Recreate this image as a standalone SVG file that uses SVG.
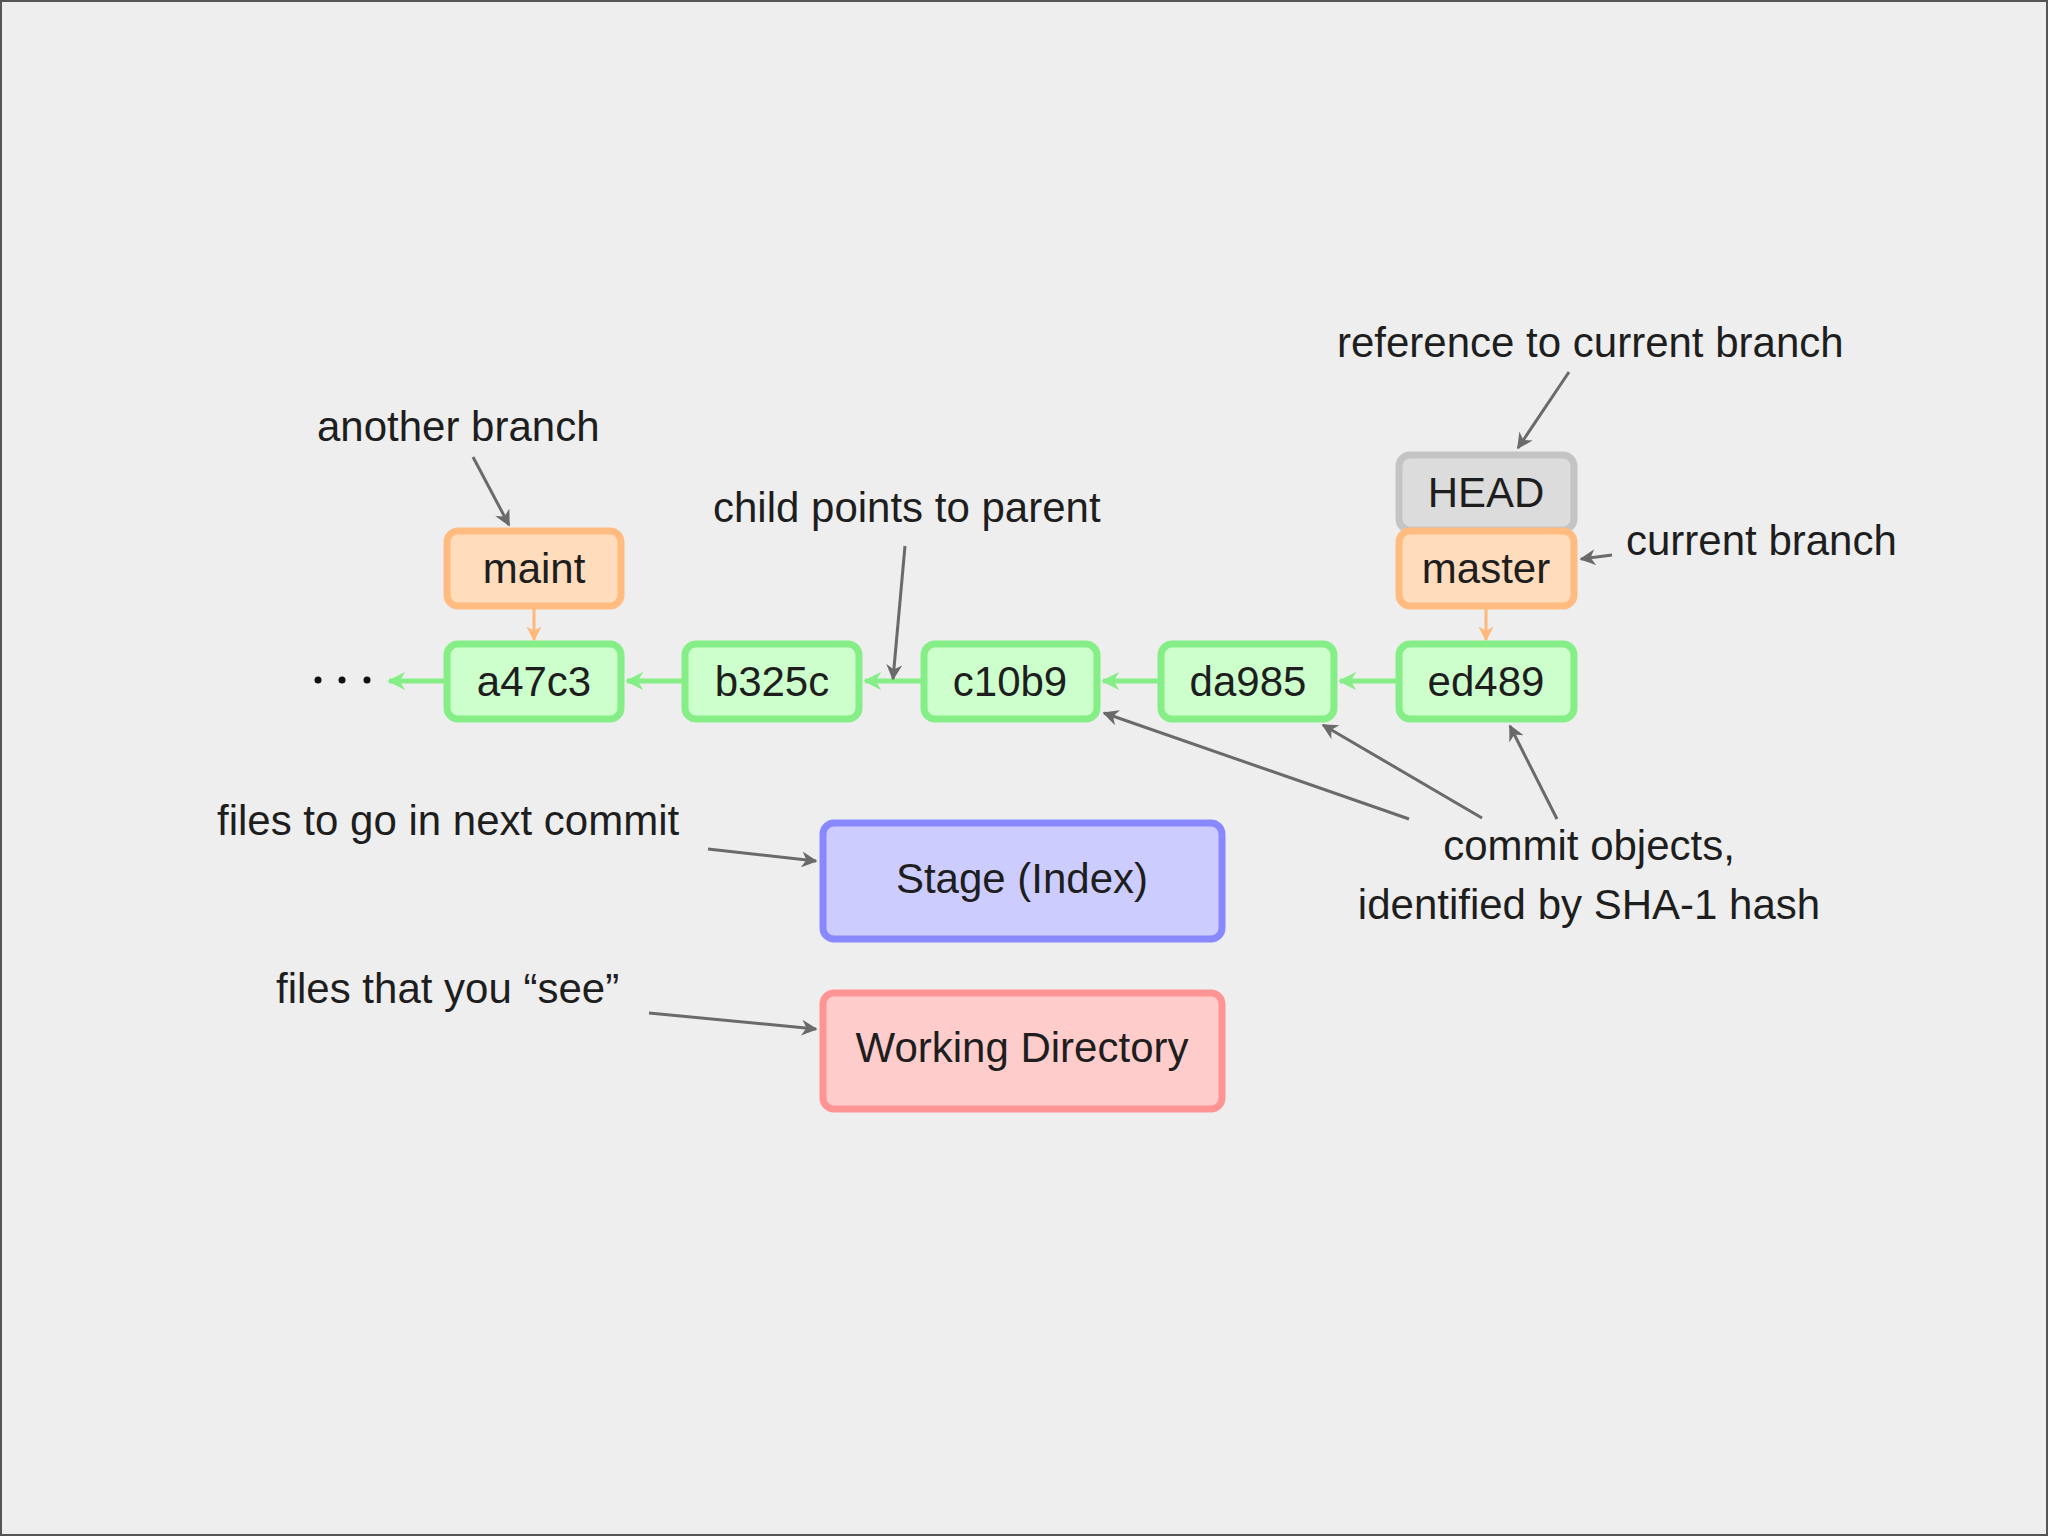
<svg xmlns="http://www.w3.org/2000/svg" width="2048" height="1536" viewBox="0 0 2048 1536">
<defs>
<style>
text{font-family:"Liberation Sans",Arial,sans-serif;font-size:42px;fill:#1e1e1e}
.lbl{text-anchor:middle}
.commit rect{fill:#ccffcc;stroke:#86ee86;stroke-width:7}
.branch rect{fill:#ffdcbc;stroke:#ffbb80;stroke-width:7}
.head rect{fill:#dcdcdc;stroke:#c4c4c4;stroke-width:7}
.stage rect{fill:#ccccff;stroke:#8888ff;stroke-width:7}
.work rect{fill:#ffcccc;stroke:#ff9494;stroke-width:7}
.g{stroke:#86ee86;stroke-width:5;fill:none}
.o{stroke:#ffb87a;stroke-width:3;fill:none}
.a{stroke:#6a6a6a;stroke-width:3;fill:none}
</style>
<marker id="mg" viewBox="0 0 10 10" refX="9" refY="5" markerWidth="18" markerHeight="18" orient="auto" markerUnits="userSpaceOnUse">
<path d="M0,0 L10,5 L0,10 L3,5 Z" fill="#86ee86"/>
</marker>
<marker id="mo" viewBox="0 0 10 10" refX="9" refY="5" markerWidth="15" markerHeight="15" orient="auto" markerUnits="userSpaceOnUse">
<path d="M0,0 L10,5 L0,10 L3,5 Z" fill="#ffb87a"/>
</marker>
<marker id="ma" viewBox="0 0 10 10" refX="9" refY="5" markerWidth="16" markerHeight="16" orient="auto" markerUnits="userSpaceOnUse">
<path d="M0,0 L10,5 L0,10 L3,5 Z" fill="#6a6a6a"/>
</marker>
</defs>
<rect x="1" y="1" width="2046" height="1534" fill="#efeeee" stroke="#555" stroke-width="2"/>

<g id="connectors">
<line class="g" x1="444" y1="681" x2="389" y2="681" marker-end="url(#mg)"/>
<line class="g" x1="682" y1="681" x2="627" y2="681" marker-end="url(#mg)"/>
<line class="g" x1="921" y1="681" x2="865" y2="681" marker-end="url(#mg)"/>
<line class="g" x1="1158" y1="681" x2="1103" y2="681" marker-end="url(#mg)"/>
<line class="g" x1="1396" y1="681" x2="1340" y2="681" marker-end="url(#mg)"/>
<line class="o" x1="534" y1="609" x2="534" y2="640" marker-end="url(#mo)"/>
<line class="o" x1="1486" y1="609" x2="1486" y2="640" marker-end="url(#mo)"/>
<line class="a" x1="473" y1="457" x2="509" y2="525" marker-end="url(#ma)"/>
<line class="a" x1="905" y1="546" x2="893" y2="679" marker-end="url(#ma)"/>
<line class="a" x1="1569" y1="372" x2="1518" y2="448" marker-end="url(#ma)"/>
<line class="a" x1="1612" y1="555" x2="1581" y2="559" marker-end="url(#ma)"/>
<line class="a" x1="708" y1="849" x2="816" y2="861" marker-end="url(#ma)"/>
<line class="a" x1="649" y1="1013" x2="816" y2="1029" marker-end="url(#ma)"/>
<line class="a" x1="1409" y1="819" x2="1104" y2="713" marker-end="url(#ma)"/>
<line class="a" x1="1482" y1="818" x2="1323" y2="725" marker-end="url(#ma)"/>
<line class="a" x1="1557" y1="819" x2="1510" y2="726" marker-end="url(#ma)"/>
</g>

<g id="dots" fill="#111">
<circle cx="318" cy="680" r="3.5"/>
<circle cx="342" cy="680" r="3.5"/>
<circle cx="367" cy="680" r="3.5"/>
</g>

<g id="node-maint" class="branch"><rect x="447" y="531" width="174" height="75" rx="11"/><text class="lbl" x="534" y="583">maint</text></g>
<g id="node-head" class="head"><rect x="1399" y="455" width="175" height="75" rx="11"/><text class="lbl" x="1486" y="507">HEAD</text></g>
<g id="node-master" class="branch"><rect x="1399" y="531" width="175" height="75" rx="11"/><text class="lbl" x="1486" y="583">master</text></g>

<g id="node-a47c3" class="commit"><rect x="447" y="644" width="174" height="75" rx="11"/><text class="lbl" x="534" y="696">a47c3</text></g>
<g id="node-b325c" class="commit"><rect x="685" y="644" width="174" height="75" rx="11"/><text class="lbl" x="772" y="696">b325c</text></g>
<g id="node-c10b9" class="commit"><rect x="924" y="644" width="173" height="75" rx="11"/><text class="lbl" x="1010" y="696">c10b9</text></g>
<g id="node-da985" class="commit"><rect x="1161" y="644" width="173" height="75" rx="11"/><text class="lbl" x="1248" y="696">da985</text></g>
<g id="node-ed489" class="commit"><rect x="1399" y="644" width="175" height="75" rx="11"/><text class="lbl" x="1486" y="696">ed489</text></g>

<g id="node-stage" class="stage"><rect x="823" y="823" width="399" height="116" rx="11"/><text class="lbl" x="1022" y="893">Stage (Index)</text></g>
<g id="node-work" class="work"><rect x="823" y="993" width="399" height="116" rx="11"/><text class="lbl" x="1022" y="1062">Working Directory</text></g>

<g id="annotations">
<text x="1337" y="357">reference to current branch</text>
<text x="1626" y="555">current branch</text>
<text x="317" y="441">another branch</text>
<text x="713" y="522">child points to parent</text>
<text x="217" y="835">files to go in next commit</text>
<text x="276" y="1003">files that you “see”</text>
<text class="lbl" x="1589" y="860">commit objects,</text>
<text class="lbl" x="1589" y="919">identified by SHA-1 hash</text>
</g>
</svg>
